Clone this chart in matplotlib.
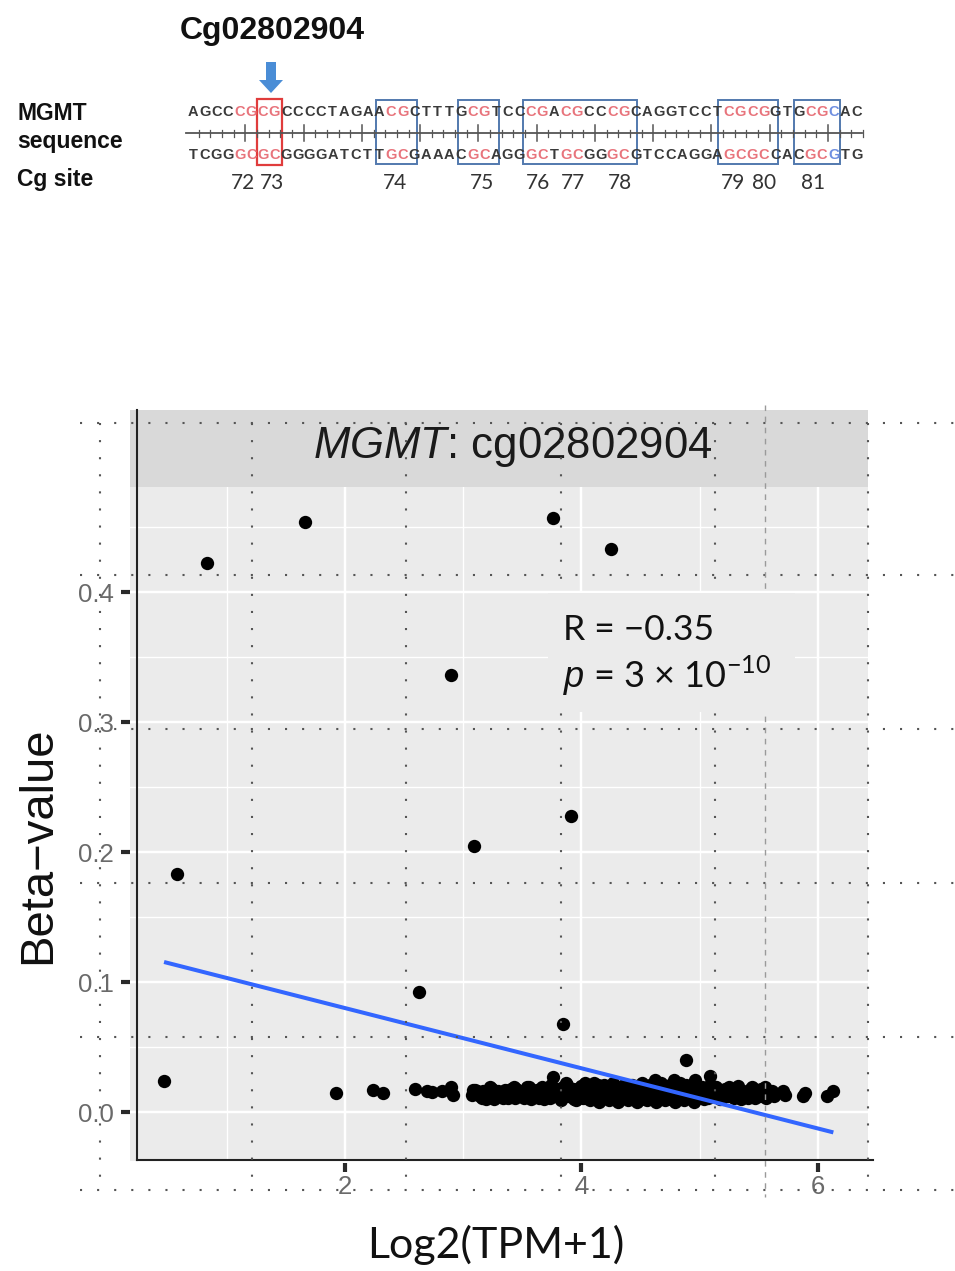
import matplotlib
matplotlib.use('Agg')
import matplotlib.pyplot as plt
from matplotlib.patches import Rectangle, Polygon
import numpy as np

plt.rcParams['mathtext.fontset'] = 'custom'
plt.rcParams['mathtext.rm'] = 'Lato'
plt.rcParams['mathtext.it'] = 'Liberation Sans:italic'

# ---------------- data ----------------
sparse_x = [0.47, 0.58, 0.83, 1.66, 1.92, 2.24, 2.32, 2.59, 2.63, 2.69, 2.74, 2.82,
            2.90, 2.90, 2.91, 3.09, 3.76, 3.84, 3.91, 4.25, 4.88]
sparse_y = [0.024, 0.183, 0.422, 0.454, 0.015, 0.017, 0.0146, 0.018, 0.092, 0.016, 0.0155, 0.016,
            0.336, 0.019, 0.013, 0.205, 0.457, 0.068, 0.228, 0.433, 0.040]

band1_x = [3.07, 3.10, 3.14, 3.17, 3.20, 3.24, 3.28, 3.31, 3.35, 3.38, 3.42, 3.45, 3.48,
           3.52, 3.55, 3.58, 3.61, 3.64, 3.67, 3.70, 3.72, 3.74, 3.76, 3.78, 3.80]
band1_y = [0.013, 0.017, 0.012, 0.016, 0.014, 0.018, 0.012, 0.015, 0.017, 0.011, 0.014, 0.018, 0.013,
           0.016, 0.012, 0.017, 0.014, 0.011, 0.019, 0.013, 0.016, 0.021, 0.027, 0.012, 0.018]

band2_x = [3.82, 3.84, 3.86, 3.88, 3.90, 3.92, 3.94, 3.96, 3.98, 4.00,
           4.02, 4.04, 4.06, 4.08, 4.10, 4.12, 4.14, 4.16, 4.18, 4.20,
           4.22, 4.24, 4.26, 4.28, 4.30, 4.32, 4.34, 4.36, 4.38, 4.40,
           4.42, 4.44, 4.46, 4.48, 4.50, 4.52, 4.54, 4.56, 4.58, 4.60,
           4.62, 4.64, 4.66, 4.68, 4.70, 4.72, 4.74, 4.76, 4.78, 4.80,
           4.82, 4.84, 4.86, 4.88, 4.90, 4.92, 4.94, 4.96, 4.98, 5.00]
band2_y = [0.011, 0.019, 0.014, 0.021, 0.012, 0.016, 0.010, 0.018, 0.013, 0.020,
           0.015, 0.011, 0.019, 0.013, 0.017, 0.010, 0.021, 0.014, 0.012, 0.018,
           0.016, 0.011, 0.020, 0.013, 0.017, 0.010, 0.015, 0.021, 0.012, 0.018,
           0.014, 0.011, 0.020, 0.016, 0.012, 0.019, 0.010, 0.015, 0.021, 0.013,
           0.025, 0.011, 0.017, 0.014, 0.018, 0.012, 0.016, 0.010, 0.025, 0.013,
           0.019, 0.011, 0.015, 0.021, 0.012, 0.017, 0.014, 0.025, 0.011, 0.016]

band3_x = [3.85, 3.89, 3.93, 3.97, 4.01, 4.05, 4.09, 4.13, 4.17, 4.21,
           4.25, 4.29, 4.33, 4.37, 4.41, 4.45, 4.49, 4.53, 4.57, 4.61,
           4.65, 4.69, 4.73, 4.77, 4.81, 4.85, 4.89, 4.93, 4.97, 5.01]
band3_y = [0.015, 0.012, 0.018, 0.014, 0.011, 0.017, 0.020, 0.012, 0.015, 0.013,
           0.019, 0.011, 0.016, 0.013, 0.020, 0.017, 0.014, 0.012, 0.018, 0.015,
           0.013, 0.019, 0.011, 0.014, 0.017, 0.012, 0.016, 0.013, 0.018, 0.015]

band4_x = [5.03, 5.06, 5.09, 5.12, 5.15, 5.18, 5.21, 5.24, 5.27, 5.30, 5.33, 5.36,
           5.39, 5.42, 5.45, 5.48, 5.51, 5.54, 5.57,
           5.61, 5.63, 5.70, 5.72, 5.87, 5.89, 6.08, 6.13]
band4_y = [0.013, 0.017, 0.028, 0.012, 0.016, 0.014, 0.018, 0.012, 0.015, 0.017, 0.013, 0.016,
           0.012, 0.017, 0.014, 0.016, 0.012, 0.015, 0.017,
           0.016, 0.012, 0.016, 0.013, 0.012, 0.015, 0.012, 0.016]

band5_x = [3.12, 3.16, 3.22, 3.26, 3.33, 3.37, 3.40, 3.44, 3.50, 3.54, 3.57, 3.62,
           3.66, 3.69, 3.73, 3.79]
band5_y = [0.016, 0.011, 0.015, 0.010, 0.013, 0.016, 0.018, 0.011, 0.016, 0.019, 0.010, 0.017,
           0.012, 0.016, 0.011, 0.015]

band6_x = [3.83, 3.87, 3.95, 4.03, 4.07, 4.11, 4.15, 4.19, 4.23, 4.27, 4.31, 4.35, 4.39, 4.43,
           4.47, 4.51, 4.55, 4.59, 4.63, 4.67, 4.71, 4.75, 4.79, 4.83, 4.87, 4.91, 4.95, 4.99]
band6_y = [0.009, 0.022, 0.009, 0.022, 0.009, 0.022, 0.008, 0.021, 0.009, 0.022, 0.008, 0.020, 0.009, 0.021,
           0.008, 0.022, 0.009, 0.020, 0.008, 0.022, 0.009, 0.021, 0.008, 0.022, 0.009, 0.020, 0.008, 0.019]

band7_x = [5.04, 5.08, 5.13, 5.17, 5.20, 5.25, 5.29, 5.32, 5.35, 5.40, 5.44, 5.47, 5.52, 5.56, 5.59]
band7_y = [0.010, 0.020, 0.019, 0.010, 0.013, 0.019, 0.011, 0.020, 0.010, 0.014, 0.019, 0.011, 0.018, 0.011, 0.013]

band8_x = [3.08, 3.13, 3.19, 3.23, 3.29, 3.34, 3.39, 3.43, 3.47, 3.51, 3.56, 3.60, 3.65, 3.68, 3.71,
           5.02, 5.07, 5.11, 5.14, 5.19, 5.23, 5.28, 5.31, 5.37, 5.41, 5.46, 5.50, 5.55, 5.58]
band8_y = [0.017, 0.014, 0.010, 0.019, 0.016, 0.011, 0.014, 0.019, 0.016, 0.011, 0.019, 0.012, 0.015, 0.010, 0.018,
           0.019, 0.011, 0.015, 0.019, 0.011, 0.016, 0.013, 0.018, 0.014, 0.011, 0.018, 0.015, 0.019, 0.013]

fit_intercept = 0.1263
fit_slope = -0.02316

x_ticks = [2, 4, 6]
x_minor = [1, 3, 5]
y_ticks = [0.0, 0.1, 0.2, 0.3, 0.4]
y_minor = [0.05, 0.15, 0.25, 0.35, 0.45]
y_ticklabels = ['0.0', '0.1', '0.2', '0.3', '0.4']

strip_label = r'$\mathit{MGMT}$: cg02802904'
r_label = 'R = \u22120.35'
p_label = r'$\mathit{p}$ = 3 × 10$^{-10}$'

top_strand = "AGCCCGCGCCCCTAGAACGCTTTGCGTCCCGACGCCCGCAGGTCCTCGCGGTGCGCAC"
red_idx = [4, 5, 6, 7, 17, 18, 24, 25, 29, 30, 32, 33, 36, 37, 46, 47, 48, 49, 53, 54]
blue_idx = [55]
site_labels = ['72', '73', '74', '75', '76', '77', '78', '79', '80', '81']
site_px = [243, 272, 395, 482, 538, 573, 620, 733, 764, 813]

x = sparse_x + band1_x + band2_x + band3_x + band4_x + band5_x + band6_x + band7_x + band8_x
y = sparse_y + band1_y + band2_y + band3_y + band4_y + band5_y + band6_y + band7_y + band8_y

# ---------------- figure ----------------
W, H = 955, 1271
fig = plt.figure(figsize=(W / 100, H / 100), dpi=100)
fig.patch.set_facecolor('white')

L, R, T, B = 130, 868, 487, 1163
ax = fig.add_axes([L / W, 1 - B / H, (R - L) / W, (B - T) / H])
ax.set_facecolor('#EBEBEB')
ax.scatter(x, y, s=92, c='black', linewidths=0, zorder=3)
xf = np.array([min(x), max(x)])
ax.plot(xf, fit_intercept + fit_slope * xf, color='#3366FF', lw=2.9, zorder=4,
        solid_capstyle='butt')
ax.set_xlim(0.182, 6.423)
ax.set_ylim(-0.0392, 0.4808)
ax.set_xticks(x_ticks)
ax.set_xticklabels([str(v) for v in x_ticks])
ax.set_xticks(x_minor, minor=True)
ax.set_yticks(y_ticks)
ax.set_yticklabels(y_ticklabels)
ax.set_yticks(y_minor, minor=True)
ax.set_axisbelow(True)
ax.grid(which='major', color='white', lw=1.75)
ax.grid(which='minor', color='white', lw=1.0)
for s in ax.spines.values():
    s.set_visible(False)
ax.tick_params(which='major', direction='out', length=6.5, width=3.0, color='#2a2a2a',
               labelsize=18.5, labelcolor='#6a6a6a')
ax.tick_params(axis='y', which='major', pad=5)
ax.tick_params(axis='x', which='major', pad=2)
ax.tick_params(which='minor', length=0)
for lab in ax.get_xticklabels() + ax.get_yticklabels():
    lab.set_family('Liberation Sans')

# overlay in pixel coordinates
ov = fig.add_axes([0, 0, 1, 1], zorder=10)
ov.set_xlim(0, W)
ov.set_ylim(H, 0)
ov.axis('off')
ov.patch.set_alpha(0)

# strip
ov.add_patch(Rectangle((130, 410), 738, 77, fc='#D9D9D9', ec='none', zorder=1))
ov.text(513, 458, strip_label, fontsize=31.5, family='Liberation Sans', color='#1a1a1a',
        ha='center', va='baseline', zorder=2)
# white gap between axis line and tick marks at the bottom
ov.add_patch(Rectangle((130, 1160.8), 738, 2.2, fc='white', ec='none', zorder=1))
# axis lines
ov.plot([137, 137], [410, 1160], color='#222222', lw=1.5, zorder=2)
ov.plot([137, 873], [1160, 1160], color='#222222', lw=1.5, zorder=2)

# dotted overlay grid
dot = (0, (1, 7.2))
for yy in [423, 575, 729, 883, 1037, 1190]:
    ov.plot([80, 955], [yy, yy], color='#555555', lw=1.5, ls=dot, zorder=3)
for xx in [100, 252, 406, 561, 715, 868]:
    ov.plot([xx, xx], [423, 1190], color='#555555', lw=1.5, ls=dot, zorder=3)
ov.plot([765, 765], [405, 1197], color='#9a9a9a', lw=1.0, ls=(0, (4, 4)), zorder=3)

# correlation label box
ov.add_patch(Rectangle((548, 593), 247, 119, fc='#EBEBEB', ec='none', zorder=5))
ov.text(563, 640, r_label, fontsize=25.5, family=['Lato', 'DejaVu Sans'], color='#111111',
        ha='left', va='baseline', zorder=6)
ov.text(563, 688, p_label, fontsize=26, family=['Lato', 'DejaVu Sans'], color='#111111',
        ha='left', va='baseline', zorder=6)

# axis titles
ov.text(38, 845, 'Beta\u2212value', fontsize=34, family='Liberation Sans', rotation=90,
        ha='center', va='center', color='#111111')
ov.text(496, 1245, 'Log2(TPM+1)', fontsize=31, family=['Lato', 'DejaVu Sans'],
        ha='center', va='center', color='#111111')

# ---------------- sequence diagram ----------------
ov.text(272, 39, 'Cg02802904', fontsize=23, fontweight='bold', family='Liberation Sans',
        ha='center', va='baseline', color='#111111')
ov.text(17, 120, 'MGMT', fontsize=16.5, fontweight='bold', family='Liberation Sans',
        ha='left', va='baseline', color='#111111')
ov.text(17, 148, 'sequence', fontsize=16.5, fontweight='bold', family='Liberation Sans',
        ha='left', va='baseline', color='#111111')
ov.text(17, 186, 'Cg site', fontsize=16.5, fontweight='bold', family='Liberation Sans',
        ha='left', va='baseline', color='#111111')

# arrow
ov.add_patch(Polygon([(266, 62), (276, 62), (276, 80), (283, 80), (271, 93),
                      (259, 80), (266, 80)], closed=True, fc='#4A8DD6', ec='none'))

comp = {'A': 'T', 'T': 'A', 'G': 'C', 'C': 'G'}
x0, dx = 193, 11.65
for i, ch in enumerate(top_strand):
    col = '#3a3a3a'
    if i in red_idx:
        col = '#E8747C'
    if i in blue_idx:
        col = '#6F8FE0'
    xc = x0 + i * dx
    ov.text(xc, 112, ch, fontsize=10.5, fontweight='bold', family='Liberation Sans',
            ha='center', va='center', color=col)
    ov.text(xc, 155, comp[ch], fontsize=10.5, fontweight='bold', family='Liberation Sans',
            ha='center', va='center', color=col)
    if i % 5 == 4:
        ov.plot([xc + dx / 2, xc + dx / 2], [125, 141], color='#555555', lw=1.1)
    else:
        ov.plot([xc + dx / 2, xc + dx / 2], [129.5, 136.5], color='#555555', lw=0.9)
ov.plot([186, 862], [133, 133], color='#555555', lw=1.3)

boxes = [(376, 417), (458, 499), (523, 637), (718, 778), (794, 840)]
for bx0, bx1 in boxes:
    ov.add_patch(Rectangle((bx0, 100), bx1 - bx0, 64, fc='none', ec='#5279AE', lw=1.4))
ov.add_patch(Rectangle((257, 99), 25, 66, fc='none', ec='#E03C3C', lw=1.6))

for lab, px in zip(site_labels, site_px):
    ov.text(px, 189, lab, fontsize=15, family=['Lato', 'DejaVu Sans'], color='#333333',
            ha='center', va='baseline')

fig.savefig('out.png', dpi=100)
